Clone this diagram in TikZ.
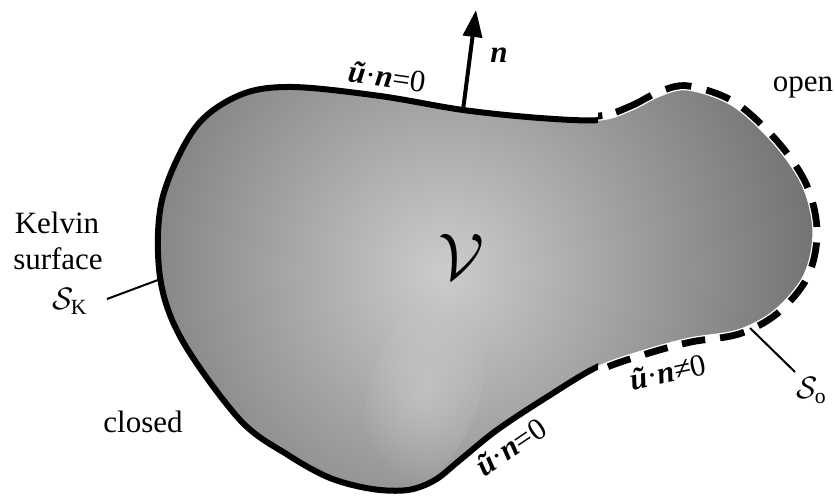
\RequirePackage{fix-cm}
\documentclass[tikz,border=0pt]{standalone}
\usepackage{fontspec}
\setmainfont{Liberation Serif}
\usepackage{amsmath}
\usetikzlibrary{arrows.meta,fadings}
\definecolor{vlight}{gray}{0.80}
\definecolor{vmid}{gray}{0.63}
\definecolor{vdark}{gray}{0.38}
\pgfdeclareradialshading{vshade}{\pgfpoint{0bp}{0bp}}{color(0bp)=(vlight); color(10bp)=(vmid); color(25bp)=(vdark); color(50bp)=(vdark)}
\tikzfading[name=softspot, inner color=transparent!0, outer color=transparent!100]
\tikzset{
  lbl/.style={font=\fontsize{31}{36}\selectfont, inner sep=0pt},
  outline/.style={line width=6pt},
  openline/.style={line width=15pt, dash pattern=on 24pt off 15pt},
  leader/.style={line width=2pt},
}
\newcommand{\ub}{{\bfseries\itshape ũ}}
\newcommand{\nb}{{\bfseries\itshape n}}
\newcommand{\shapepath}{plot[smooth cycle, tension=0.55] coordinates {
 (600,380) (632,390) (660,404) (688,410) (733,394) (775,355) (803,313) (813,268)
 (804,225) (775,190) (738,170) (690,162) (645,150) (597,133) (547,103) (497,70)
 (460,40) (435,20) (408,10) (372,11) (330,22) (288,45) (240,80) (182,160)
 (160,223) (162,300) (195,372) (240,405) (292,413) (380,404) (463,390) (540,382)}}
\begin{document}
\begin{tikzpicture}[x=1pt,y=1pt]
\useasboundingbox (0,0) rectangle (835,500);
% dashed open part (outer half visible)
\begin{scope}
  \clip (598,0) rectangle (835,500);
  \draw[openline] \shapepath;
\end{scope}
% shaded volume
\begin{scope}
  \clip \shapepath;
  \shade[shading=vshade] (445,228) circle (450);
  \fill[vlight, path fading=softspot, opacity=0.6, rotate around={-18:(425,110)}] (425,110) ellipse (55 and 100);
\end{scope}
\begin{scope}
  \clip (598,0) rectangle (835,500);
  \draw[white, line width=1.2pt] \shapepath;
\end{scope}
% closed part
\begin{scope}
  \clip (0,0) rectangle (598,500);
  \draw[outline] \shapepath;
\end{scope}
% normal arrow
\coordinate (nbase) at (463,390);
\coordinate (ntip) at (476,490);
\draw[line width=4pt, -{Triangle[length=27pt,width=19pt]}] (nbase) -- (ntip);
\node[lbl, anchor=base] (nlab) at (499,437) {\nb};
% labels
\node[lbl, rotate=-8] (top) at (387,423) {\ub·\nb=0};
\node[lbl, rotate=34] (bot) at (511,53) {\ub·\nb=0};
\node[lbl, rotate=12] (neq) at (668,128) {\ub·\nb≠0};
\node[lbl, anchor=base] (open) at (803,408) {open};
\node[lbl, anchor=base] (closed) at (143,67) {closed};
\node[lbl, anchor=base] (kelvin) at (57,266) {Kelvin};
\node[lbl, anchor=base] (surface) at (58,230) {surface};
\node[lbl, anchor=base west] (SK) at (52,190) {$\mathcal{S}_{\mathrm{K}}$};
\node[lbl, anchor=base west] (So) at (796,101) {$\mathcal{S}_{\mathrm{o}}$};
\node[font=\fontsize{66}{66}\selectfont, inner sep=0pt] (V) at (461,243) {$\mathcal{V}$};
% leaders
\coordinate (kA) at (107,201);
\coordinate (kB) at (158,220);
\draw[leader] (kA) -- (kB);
\coordinate (oA) at (750,172);
\coordinate (oB) at (795,128);
\draw[leader] (oA) -- (oB);
\end{tikzpicture}
\end{document}
